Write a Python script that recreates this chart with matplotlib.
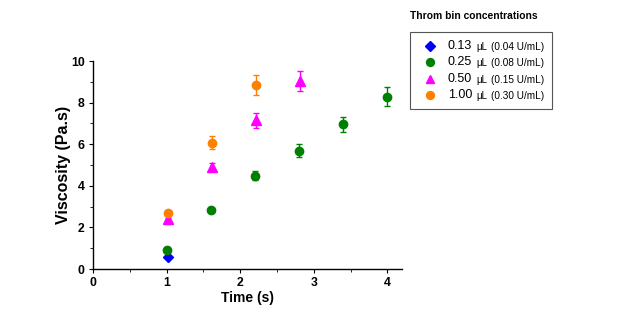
import matplotlib
matplotlib.use("Agg")
import matplotlib.pyplot as plt
from matplotlib.ticker import MultipleLocator
from matplotlib.lines import Line2D
from matplotlib.patches import Rectangle

plt.rcParams['font.family'] = ['Liberation Sans', 'DejaVu Sans']

# Data
blue_x = [1.02]
blue_y = [0.58]
blue_err = [0.05]

green_x = [1.0, 1.61, 2.2, 2.8, 3.4, 4.0]
green_y = [0.93, 2.82, 4.49, 5.69, 6.96, 8.29]
green_err = [0.08, 0.1, 0.2, 0.3, 0.35, 0.44]

mag_x = [1.02, 1.62, 2.22, 2.82]
mag_y = [2.39, 4.9, 7.15, 9.04]
mag_err = [0.08, 0.2, 0.37, 0.46]

orange_x = [1.02, 1.62, 2.22]
orange_y = [2.71, 6.07, 8.85]
orange_err = [0.08, 0.31, 0.47]

labels_main = ["0.13", "0.25", "0.50", "1.00"]
labels_rest = ["(0.04 U/mL)", "(0.08 U/mL)", "(0.15 U/mL)", "(0.30 U/mL)"]

W, H = 631, 329
fig = plt.figure(figsize=(W / 100, H / 100), dpi=100)
ax = fig.add_axes([93 / W, 1 - 269 / H, 309 / W, 208 / H])

series = [
    (blue_x, blue_y, blue_err, '#0000ff', 'D', 5),
    (green_x, green_y, green_err, '#008000', 'o', 6),
    (mag_x, mag_y, mag_err, '#ff00ff', '^', 6.5),
    (orange_x, orange_y, orange_err, '#ff8000', 'o', 6),
]
for xs, ys, es, c, m, ms in series:
    ax.errorbar(xs, ys, yerr=es, fmt=m, color=c, ms=ms, capsize=2,
                elinewidth=1, capthick=1, mec=c)

ax.set_xlim(0, 4.2)
ax.set_ylim(0, 10)
ax.xaxis.set_major_locator(MultipleLocator(1))
ax.xaxis.set_minor_locator(MultipleLocator(0.5))
ax.yaxis.set_major_locator(MultipleLocator(2))
ax.yaxis.set_minor_locator(MultipleLocator(1))
ax.spines['top'].set_visible(False)
ax.spines['right'].set_visible(False)
for s in ['left', 'bottom']:
    ax.spines[s].set_linewidth(1.0)
ax.tick_params(which='major', length=3, width=0.8, labelsize=8.8, pad=3)
ax.tick_params(which='minor', length=2, width=0.6)
for lab in ax.get_xticklabels() + ax.get_yticklabels():
    lab.set_fontweight('bold')
ax.set_xlabel("Time (s)", fontsize=10, fontweight='bold', labelpad=1)
ax.set_ylabel("Viscosity (Pa.s)", fontsize=11.5, fontweight='bold', labelpad=0)

# Legend title
fig.text(410 / W, 1 - 16 / H, "Throm bin concentrations", fontsize=7.4,
         fontweight='bold', va='center', ha='left')

# Manual legend box
fig.patches.append(Rectangle((410 / W, 1 - 109 / H), 142 / W, 77 / H,
                             transform=fig.transFigure, fill=False,
                             edgecolor='#555555', linewidth=0.8))
row_y = [46, 62, 79, 95]
for (xs, ys, es, c, m, ms), lm, lr, ry in zip(series, labels_main, labels_rest, row_y):
    yf = 1 - ry / H
    fig.add_artist(Line2D([430 / W], [yf], transform=fig.transFigure,
                          marker=m, color=c, mec=c, ms=ms * 0.95, linestyle='none'))
    fig.text(448 / W, yf, lm, fontsize=9, va='center', ha='left')
    fig.text(476 / W, yf - 1 / H, "μL", fontsize=7, va='center', ha='left')
    fig.text(491 / W, yf - 1 / H, lr, fontsize=7.2, va='center', ha='left')

fig.savefig("out.png", dpi=100)
